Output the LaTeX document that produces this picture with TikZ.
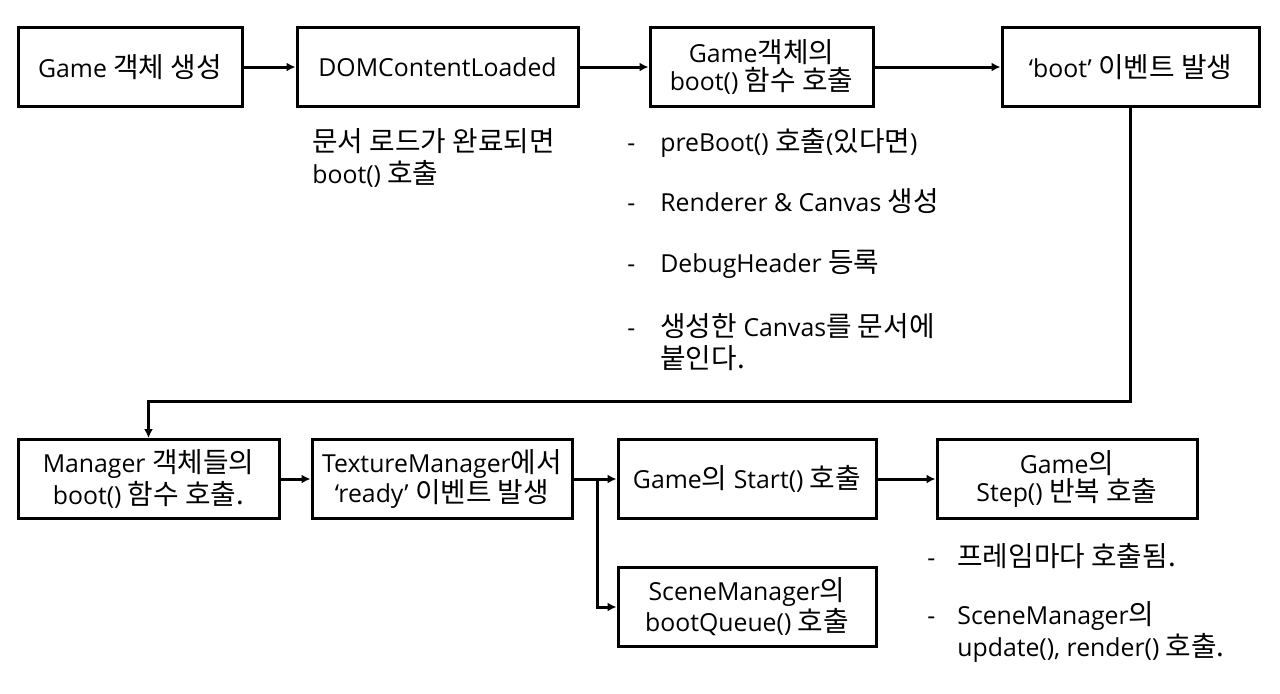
\documentclass[tikz,border=0pt]{standalone}
\usepackage{fontspec}
\usepackage{tikz}
\usetikzlibrary{arrows.meta}
\setmainfont{Open Sans}
\newfontfamily\kofont[Scale=1.12]{Noto Sans CJK KR}
\newcommand{\ko}[1]{{\kofont #1}}

\begin{document}
\begin{tikzpicture}[x=0.5pt,y=-0.5pt,
	every node/.style={font=\fontsize{12.4}{14}\selectfont},
	box/.style={draw, line width=1.5pt, minimum height=39.5pt, align=center, inner sep=0pt},
	note/.style={anchor=north west, inner sep=0pt, font=\fontsize{12.4}{15}\selectfont},
	arr/.style={line width=1.5pt, -{Latex[length=4.5pt,width=4.5pt]}}]
			%Config
			\useasboundingbox (0,0) rectangle (1280,693);
			
			%Caixas de cima
			\node[box, minimum width=112pt] (create) at (130,67) {Game \ko{객체 생성}};
			\node[box, minimum width=140.5pt] (dom) at (437.5,67) {DOMContentLoaded};
			\node[box, minimum width=111.5pt] (gboot) at (761.5,67) {Game\ko{객체의}\\boot() \ko{함수 호출}};
			\node[box, minimum width=128.5pt] (bootev) at (1130.5,67) {‘boot’ \ko{이벤트 발생}};
			
			%Caixas de baixo
			\node[box, minimum width=130.5pt] (mgr) at (148.5,479) {Manager \ko{객체들의}\\boot() \ko{함수 호출.}};
			\node[box, minimum width=130pt] (tex) at (442,479) {TextureManager\ko{에서}\\‘ready’ \ko{이벤트 발생}};
			\node[box, minimum width=129pt] (start) at (747,479) {Game\ko{의} Start() \ko{호출}};
			\node[box, minimum width=130pt] (step) at (1067,479) {Game\ko{의}\\Step() \ko{반복 호출}};
			\node[box, minimum width=129pt] (queue) at (747,607) {SceneManager\ko{의}\\bootQueue() \ko{호출}};
			
			%Setas
			\coordinate (bend) at (0,401);
			\coordinate (fork) at (597,479);
			\draw[arr] (create) -- (dom);
			\draw[arr] (dom) -- (gboot);
			\draw[arr] (gboot) -- (bootev);
			\draw[arr] (bootev.south) -- (bootev.south |- bend) -| (mgr.north);
			\draw[arr] (mgr) -- (tex);
			\draw[arr] (tex) -- (start);
			\draw[arr] (fork) |- (queue.west);
			\draw[arr] (start) -- (step);
			
			%Notas
			\node[note] (domnote) at (312,128) {\begin{tabular}{@{}l@{}}\ko{문서 로드가 완료되면}\\boot() \ko{호출}\end{tabular}};
			\node[note] (pre) at (627,128) {\begin{tabular}{@{}p{16.5pt}@{}l@{}}-&preBoot() \ko{호출}(\ko{있다면})\end{tabular}};
			\node[note] (rend) at (627,188) {\begin{tabular}{@{}p{16.5pt}@{}l@{}}-&Renderer \& Canvas \ko{생성}\end{tabular}};
			\node[note] (debug) at (627,250) {\begin{tabular}{@{}p{16.5pt}@{}l@{}}-&DebugHeader \ko{등록}\end{tabular}};
			\node[note] (attach) at (627,313) {\begin{tabular}{@{}p{16.5pt}@{}l@{}}-&\ko{생성한} Canvas\ko{를 문서에}\\&\ko{붙인다.}\end{tabular}};
			
			\node[note] (frame) at (927,543) {\begin{tabular}{@{}p{15pt}@{}l@{}}-&\ko{프레임마다 호출됨.}\end{tabular}};
			\node[note] (scene) at (927,601) {\begin{tabular}{@{}p{15pt}@{}l@{}}-&SceneManager\ko{의}\\&update(), render() \ko{호출.}\end{tabular}};
		\end{tikzpicture}
\end{document}
